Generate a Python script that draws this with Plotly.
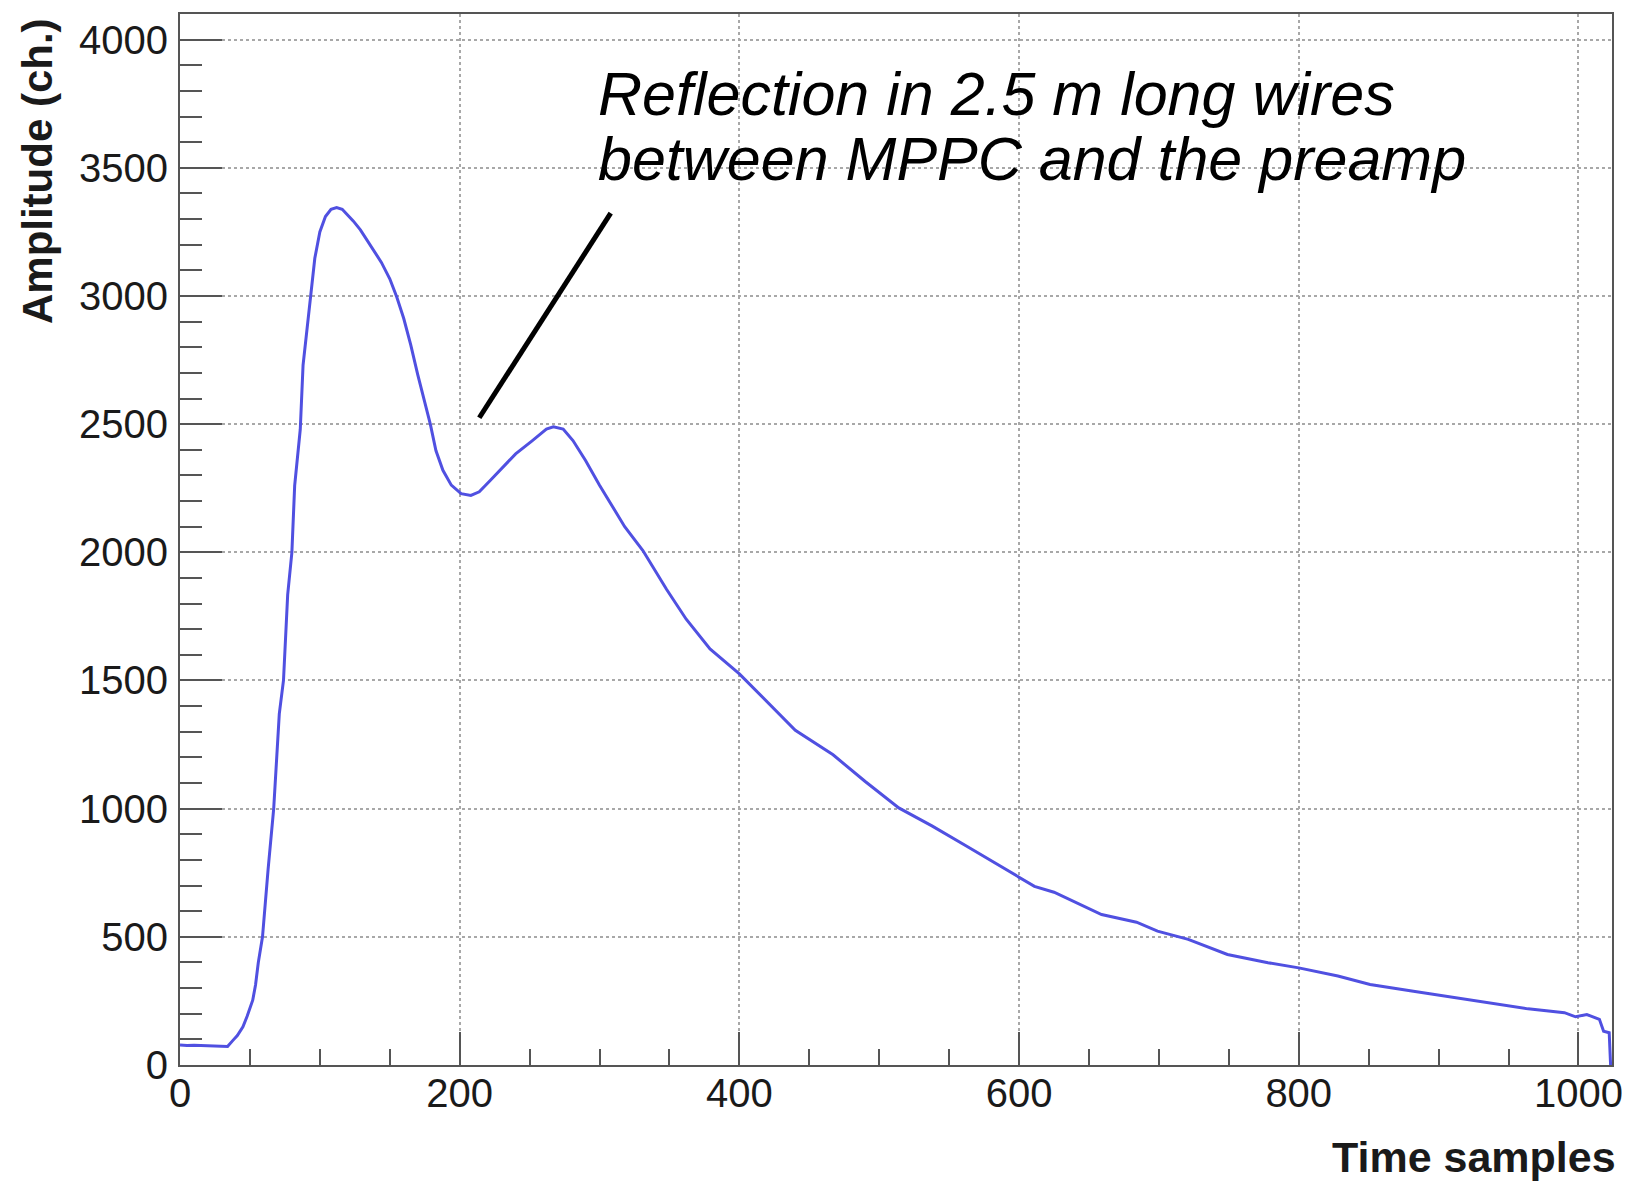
import plotly.graph_objects as go

# ---- data ----
time_samples = [0, 5, 10, 15, 20, 25, 30, 34, 38, 41, 45, 48, 52, 54, 56, 59, 63, 67, 71, 74,
                77, 80, 82, 86, 88, 90.5, 93, 96.4, 100, 104, 108, 112, 116, 119, 124, 129,
                137, 144, 150, 155, 160, 165, 170, 175, 179, 183, 188, 194, 201, 208, 214,
                222, 231, 240, 252, 262, 267, 274, 281, 290, 300, 310, 318, 331, 348, 362,
                379, 400, 419, 440, 467, 490, 514, 538, 562, 586, 600, 611, 625, 636, 659,
                684, 699, 721, 749, 778, 800, 828, 851, 882, 919, 939, 964, 990, 998, 1006,
                1015, 1018, 1022, 1023]
amplitude = [78, 76, 77, 76, 75, 74, 71, 72, 97, 115, 149, 190, 253, 312, 400, 500, 763, 1000,
             1370, 1500, 1835, 2000, 2260, 2480, 2730, 2861, 2975, 3147, 3250, 3310, 3338, 3345,
             3338, 3322, 3292, 3258, 3189, 3131, 3067, 2996, 2912, 2809, 2693, 2590, 2500, 2397,
             2320, 2262, 2229, 2222, 2236, 2281, 2332, 2384, 2436, 2481, 2490, 2481, 2436, 2358,
             2262, 2175, 2100, 2007, 1855, 1739, 1623, 1526, 1423, 1306, 1210, 1106, 1003, 932,
             855, 779, 734, 697, 674, 645, 587, 557, 522, 490, 431, 399, 379, 347, 314, 288, 256,
             240, 219, 204, 188, 197, 178, 132, 126, 0]

x_title = "Time samples"
y_title = "Amplitude (ch.)"
note_lines = ["Reflection in 2.5 m long wires", "between MPPC and the preamp"]
pointer_x = [214, 308]
pointer_y = [2525, 3323]

FONT = "Liberation Sans, Arial, Helvetica, sans-serif"

fig = go.Figure()
fig.add_trace(go.Scatter(
    x=time_samples, y=amplitude, mode="lines",
    line=dict(color="rgb(80,80,225)", width=3),
    showlegend=False,
))

axis_common = dict(
    showline=True, linecolor="#555555", linewidth=2, mirror=True,
    ticks="inside", tickwidth=2, tickcolor="#555555",
    showgrid=True, gridcolor="#a8a8a8", griddash="dot", gridwidth=1.5,
    zeroline=False,
    tickfont=dict(family=FONT, size=40, color="#1a1a1a"),
)

fig.update_xaxes(
    range=[0, 1024], dtick=200, tick0=0, ticklen=33,
    minor=dict(dtick=50, ticklen=16, tickwidth=2, tickcolor="#555555", ticks="inside", showgrid=False),
    ticklabelstandoff=-8,
    **axis_common,
)
fig.update_yaxes(
    range=[0, 4100], dtick=500, tick0=0, ticklen=42,
    minor=dict(dtick=100, ticklen=22, tickwidth=2, tickcolor="#555555", ticks="inside", showgrid=False),
    ticklabelstandoff=2,
    **axis_common,
)

# pointer line
fig.add_shape(type="line", xref="x", yref="y",
              x0=pointer_x[0], y0=pointer_y[0], x1=pointer_x[1], y1=pointer_y[1],
              line=dict(color="black", width=5))

# annotation text lines
for yy, txt in zip([0.9236, 0.8623], note_lines):
    fig.add_annotation(xref="paper", yref="paper", x=0.2905, y=yy,
                       xanchor="left", yanchor="middle", showarrow=False,
                       text="<i>" + txt + "</i>",
                       font=dict(family=FONT, size=61, color="black"))

# axis titles
fig.add_annotation(xref="paper", yref="paper", x=1.004, y=-0.0874,
                   xanchor="right", yanchor="middle", showarrow=False,
                   text="<b>" + x_title + "</b>",
                   font=dict(family=FONT, size=43, color="#1a1a1a"))
fig.add_annotation(xref="paper", yref="paper", x=-0.0999, y=0.998,
                   xanchor="center", yanchor="top", showarrow=False, textangle=-90,
                   text="<b>" + y_title + "</b>",
                   font=dict(family=FONT, size=42, color="#1a1a1a"))

# page body has an 8px margin: shrink the figure so the plot frame lands where the reference's does
fig.update_layout(
    width=1622, height=1173,
    margin=dict(l=172, r=18, t=4, b=116),
    paper_bgcolor="white", plot_bgcolor="white",
)

fig.write_html("out.html")
